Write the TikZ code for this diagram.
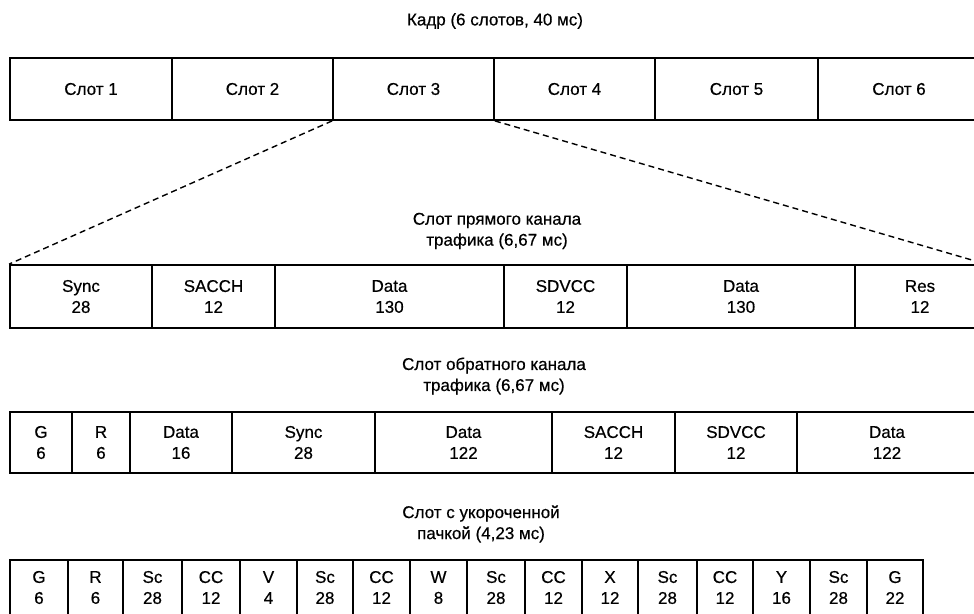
\documentclass[tikz,border=0pt]{standalone}
\usepackage{fontspec}
\setmainfont[FakeBold=0.5]{Liberation Sans}
\newcommand\cellbox[6]{\node[cell, minimum width={#3-#2}, minimum height={#5-#4}] (#1) at ({(#2+#3)/2},{(#4+#5)/2}) {#6};}
\begin{document}
\begin{tikzpicture}[x=1pt,y=-1pt,
  cell/.style={draw, line width=1.8pt, inner sep=0pt, align=center, font=\fontsize{17}{21}\selectfont},
  lbl/.style={align=center, inner sep=0pt, font=\fontsize{17}{21}\selectfont},
  guide/.style={line width=1.4pt, dash pattern=on 6pt off 4pt}]
\useasboundingbox (0,0) rectangle (974,613);
% title
\node[lbl] (title) at (495,21) {Кадр (6 слотов, 40 мс)};
% frame row
\cellbox{s1}{10}{172}{58}{120}{Слот 1}
\cellbox{s2}{172}{333}{58}{120}{Слот 2}
\cellbox{s3}{333}{494}{58}{120}{Слот 3}
\cellbox{s4}{494}{655}{58}{120}{Слот 4}
\cellbox{s5}{655}{818}{58}{120}{Слот 5}
\cellbox{s6}{818}{980}{58}{120}{Слот 6}
% forward
\node[lbl] (fwl) at (497,231) {Слот прямого канала\\трафика (6,67 мс)};
\cellbox{f1}{10}{152}{265}{328}{Sync\\28}
\cellbox{f2}{152}{275}{265}{328}{SACCH\\12}
\cellbox{f3}{275}{504}{265}{328}{Data\\130}
\cellbox{f4}{504}{627}{265}{328}{SDVCC\\12}
\cellbox{f5}{627}{855}{265}{328}{Data\\130}
\cellbox{f6}{855}{985}{265}{328}{Res\\12}
\draw[guide] (s3.south west) -- (f1.north west);
\draw[guide] (s3.south east) -- (f6.north east);
% reverse
\node[lbl] (rvl) at (494,376) {Слот обратного канала\\трафика (6,67 мс)};
\cellbox{r1}{10}{72}{412}{473}{G\\6}
\cellbox{r2}{72}{130}{412}{473}{R\\6}
\cellbox{r3}{130}{232}{412}{473}{Data\\16}
\cellbox{r4}{232}{375}{412}{473}{Sync\\28}
\cellbox{r5}{375}{552}{412}{473}{Data\\122}
\cellbox{r6}{552}{675}{412}{473}{SACCH\\12}
\cellbox{r7}{675}{797}{412}{473}{SDVCC\\12}
\cellbox{r8}{797}{977}{412}{473}{Data\\122}
% shortened burst
\node[lbl] (shl) at (481,524) {Слот с укороченной\\пачкой (4,23 мс)};
\cellbox{b1}{10}{68}{560}{615}{G\\6}
\cellbox{b2}{68}{123}{560}{615}{R\\6}
\cellbox{b3}{123}{182}{560}{615}{Sc\\28}
\cellbox{b4}{182}{240}{560}{615}{CC\\12}
\cellbox{b5}{240}{297}{560}{615}{V\\4}
\cellbox{b6}{297}{353}{560}{615}{Sc\\28}
\cellbox{b7}{353}{410}{560}{615}{CC\\12}
\cellbox{b8}{410}{467}{560}{615}{W\\8}
\cellbox{b9}{467}{525}{560}{615}{Sc\\28}
\cellbox{b10}{525}{582}{560}{615}{CC\\12}
\cellbox{b11}{582}{638}{560}{615}{X\\12}
\cellbox{b12}{638}{697}{560}{615}{Sc\\28}
\cellbox{b13}{697}{753}{560}{615}{CC\\12}
\cellbox{b14}{753}{810}{560}{615}{Y\\16}
\cellbox{b15}{810}{867}{560}{615}{Sc\\28}
\cellbox{b16}{867}{923}{560}{615}{G\\22}
\end{tikzpicture}
\end{document}
